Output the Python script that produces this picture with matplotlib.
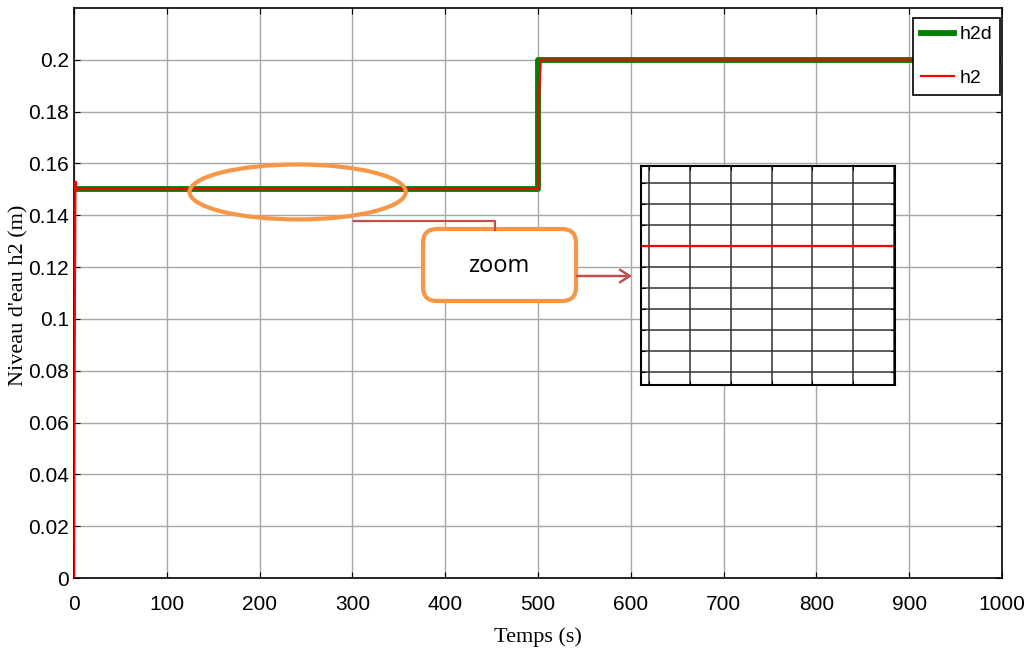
import matplotlib
matplotlib.use('Agg')
import matplotlib.pyplot as plt
from matplotlib.patches import Ellipse, FancyBboxPatch, FancyArrowPatch
from matplotlib.lines import Line2D
import numpy as np

# consigne h2d et niveau mesuré h2
t_ref = [0, 500, 500, 1000]
h2d = [0.15, 0.15, 0.20, 0.20]

t_mes = [0, 0.5, 1.5, 3, 6, 500, 501, 503, 1000]
h2 = [0.0, 0.066, 0.153, 0.1501, 0.1501, 0.1501, 0.185, 0.2001, 0.2001]

xticks = np.arange(0, 1001, 100)
yticks = [0, 0.02, 0.04, 0.06, 0.08, 0.1, 0.12, 0.14, 0.16, 0.18, 0.2]
ytick_labels = ['0', '0.02', '0.04', '0.06', '0.08', '0.1', '0.12', '0.14',
                '0.16', '0.18', '0.2']

# vue agrandie autour de 0.15
zoom_xticks = [0, 1, 2, 3, 4, 5, 6]
zoom_yticks = [0.147, 0.1475, 0.148, 0.1485, 0.149, 0.1495, 0.15, 0.1505, 0.151, 0.1515]
zoom_t = [-1, 7]
zoom_h2 = [0.15, 0.15]

tick_font = ['Liberation Sans', 'DejaVu Sans']
label_font = ['Liberation Serif', 'DejaVu Serif']

W, H = 1034, 659
fig = plt.figure(figsize=(W / 100, H / 100), dpi=100)


def px(x, y):
    # pixels (origine en haut à gauche) -> pouces
    return x / 100, (H - y) / 100


ax = fig.add_axes([74 / W, 1 - 578 / H, 928 / W, 570 / H])
ax.plot(t_ref, h2d, color='green', lw=4.2, label='h2d', zorder=3)
ax.plot(t_mes, h2, color='red', lw=1.6, label='h2', zorder=4)
ax.set_xlim(0, 1000)
ax.set_ylim(0, 0.22)
ax.set_xticks(xticks)
ax.set_yticks(yticks)
ax.set_yticklabels(ytick_labels)
ax.tick_params(direction='in', length=4, top=True, right=True, labelsize=15)
ax.tick_params(axis='x', pad=12)
for lbl in ax.get_xticklabels() + ax.get_yticklabels():
    lbl.set_family(tick_font)
ax.grid(True, color='#a8a8a8', lw=1)
for s in ax.spines.values():
    s.set_linewidth(1.2)
ax.set_xlabel('Temps (s)', family=label_font, fontsize=16, labelpad=10)
ax.set_ylabel("Niveau d'eau h2 (m)", family=label_font, fontsize=16)
ax.yaxis.set_label_coords(-46 / 928, 0.5 - (295 - 293) / 570)

leg = ax.legend(loc='upper right', bbox_to_anchor=(1 - 2 / 928, 1 - 10 / 570),
                borderaxespad=0, fancybox=False, edgecolor='black',
                framealpha=1, handlelength=1.7, handletextpad=0.3,
                borderpad=0.4, labelspacing=1.35,
                prop={'family': tick_font, 'size': 14})
leg.get_frame().set_linewidth(1.2)

# ellipse autour du régime établi
orange = '#F79646'
ax.add_patch(Ellipse((241, 0.149), 233, 0.0212, fill=False, ec=orange,
                     lw=3, zorder=6))

# liaison ellipse -> cadre "zoom" (coordonnées en pouces)
link = '#C0504D'
lx, ly = zip(px(354, 221), px(495, 221), px(495, 230))
fig.add_artist(Line2D(lx, ly, color=link, lw=1.6, transform=fig.dpi_scale_trans))

bx, by = px(423, 301)
box = FancyBboxPatch((bx + 0.12, by + 0.12), 1.53 - 0.24, 0.72 - 0.24,
                     boxstyle='round,pad=0.12,rounding_size=0.14',
                     fc='white', ec=orange, lw=3, transform=fig.dpi_scale_trans)
fig.add_artist(box)
tx, ty = px(499, 266)
fig.text(tx, ty, 'zoom', transform=fig.dpi_scale_trans,
         ha='center', va='center', fontsize=17, family=['Open Sans', 'DejaVu Sans'])

fig.add_artist(FancyArrowPatch(px(577, 276), px(632, 276),
                               arrowstyle='->,head_length=7,head_width=4.5',
                               color=link, lw=1.8, shrinkA=0, shrinkB=0,
                               transform=fig.dpi_scale_trans))

# encart agrandi
axz = fig.add_axes([640.7 / W, 1 - 385 / H, 254.6 / W, 219.3 / H])
axz.plot(zoom_t, zoom_h2, color='red', lw=1.6)
axz.set_xticks(zoom_xticks)
axz.set_yticks(zoom_yticks)
axz.set_xlim(-0.21, 6.03)
axz.set_ylim(0.147 - 0.62 * 0.0005, 0.1515 + 0.81 * 0.0005)
axz.set_xticklabels([])
axz.set_yticklabels([])
axz.tick_params(direction='in', length=3, top=True, right=True)
axz.grid(True, color='#303030', lw=1.1)
for s in axz.spines.values():
    s.set_linewidth(1.5)

fig.savefig('out.png', dpi=100)
